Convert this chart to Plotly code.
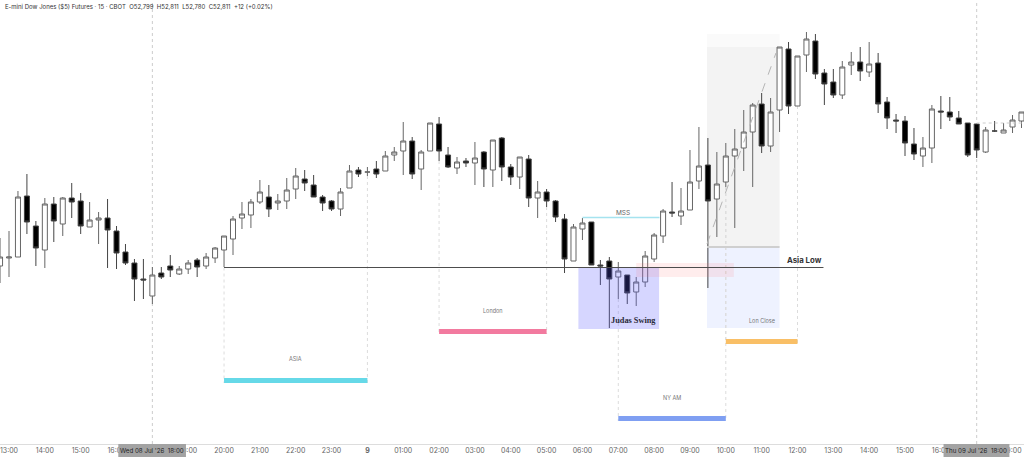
import plotly.graph_objects as go

# ---- data -----------------------------------------------------------------
first_bar = -1
opens = [52668,52676,52677,52738,52708,52684,52730,52710,52736,52733,52707,52714,52716,52703,52682,52671,52655,52638,52661,52668,52660,
         52665,52674,52668,52676,52684,52695,52716,52719,52732,52737,52731,52733,52745,52755,52749,52737,52733,52725,52746,52764,52762,
         52765,52763,52779,52783,52793,52765,52783,52810,52779,52766,52773,52771,52782,52764,52796,52767,52757,52775,52736,52742,52733,
         52715,52673,52705,52712,52669,52673,52657,52659,52642,52652,52675,52698,52722,52718,52724,52753,52769,52735,52752,52778,52786,
         52802,52830,52788,52824,52885,52828,52879,52893,52861,52852,52839,52869,52872,52862,52871,52832,52814,52813,52790,52778,52786,
         52823,52822,52816,52811,52810,52782,52803,52801,52807,52813,52799]
highs = [52696,52703,52743,52760,52713,52736,52737,52737,52751,52741,52732,52722,52735,52708,52690,52675,52675,52667,52667,52679,52668,
         52674,52676,52681,52687,52698,52718,52732,52735,52754,52749,52740,52756,52766,52764,52759,52739,52734,52746,52769,52767,52767,
         52773,52783,52787,52812,52797,52784,52811,52817,52787,52777,52776,52792,52783,52794,52797,52770,52777,52779,52753,52745,52734,
         52720,52710,52716,52712,52674,52677,52672,52659,52657,52683,52701,52725,52752,52746,52784,52807,52796,52782,52791,52805,52824,
         52831,52841,52836,52887,52892,52878,52902,52900,52865,52865,52873,52882,52887,52892,52881,52837,52820,52818,52806,52797,52829,
         52838,52837,52823,52811,52810,52807,52813,52811,52819,52822,52811]
lows = [52651,52657,52677,52700,52668,52666,52692,52698,52716,52700,52707,52690,52666,52665,52669,52633,52635,52630,52655,52657,52659,
        52660,52657,52665,52671,52667,52679,52705,52706,52730,52717,52724,52725,52735,52743,52737,52723,52723,52718,52746,52757,52758,
        52756,52763,52773,52759,52755,52744,52783,52773,52766,52760,52767,52749,52747,52747,52753,52749,52745,52727,52716,52727,52712,
        52661,52673,52694,52669,52649,52606,52635,52630,52628,52647,52672,52691,52717,52709,52724,52745,52646,52697,52747,52706,52763,
        52747,52781,52782,52802,52820,52828,52862,52855,52829,52836,52835,52859,52853,52857,52821,52805,52801,52778,52774,52767,52771,
        52805,52813,52810,52777,52776,52781,52802,52801,52801,52806,52780]
closes = [52677,52677,52737,52712,52686,52730,52713,52736,52732,52708,52714,52716,52704,52681,52671,52655,52654,52659,52657,52664,52665,
          52671,52667,52677,52686,52698,52715,52720,52732,52742,52725,52733,52744,52758,52751,52737,52731,52725,52742,52763,52760,52762,
          52760,52778,52782,52793,52760,52782,52811,52783,52767,52772,52771,52776,52765,52794,52767,52757,52777,52736,52742,52733,52717,
          52675,52707,52711,52669,52668,52655,52663,52641,52652,52678,52699,52723,52721,52723,52752,52768,52733,52750,52778,52785,52802,
          52829,52788,52822,52887,52828,52878,52895,52860,52850,52839,52867,52872,52863,52870,52830,52816,52813,52791,52780,52786,52825,
          52822,52817,52810,52779,52784,52804,52803,52804,52814,52822,52811]
bars = list(range(first_bar, first_bar + len(opens)))

tick_bars = [4,8,12,20,24,28,32,36,40,44,48,52,56,60,64,68,72,76,80,84,88,92,96,100,104,112]
tick_labels = ["14:00","15:00","16:00","19:00","20:00","21:00","22:00","23:00","<b>9</b>",
               "01:00","02:00","03:00","04:00","05:00","06:00","07:00","08:00","09:00","10:00","11:00",
               "12:00","13:00","14:00","15:00","16:00","19:00"]
first_tick_bar, first_tick_label = 0, "13:00"

header = ("E-mini Dow Jones ($5) Futures · 15 · CBOT\u00a0\u00a0O52,799\u00a0\u00a0H52,811"
          "\u00a0\u00a0L52,780\u00a0\u00a0C52,811\u00a0\u00a0+12 (+0.02%)")

# session: name, start bar, end bar, band top price, band bottom price, colour, label price,
# price where the left and right guide begin
sessions = [
    ("ASIA", 24, 40, 52556, 52551, "#66d9e8", 52575, 52666.5, 52758),
    ("London", 48, 60, 52605, 52600, "#f27a9f", 52623.5, 52773, 52727),
    ("NY AM", 68, 80, 52518, 52513, "#7f9ff2", 52536, 52635, 52747),
    ("Lon Close", 80, 88, 52595, 52590, "#f9bf66", 52613, 52747, 52828),
]
asia_low = 52666.5
mss_price = 52716.5
last_price = 52811
price_lo, price_hi = 52490, 52934
bar_lo, bar_hi = -1.0045, 113.28

# ---- figure ---------------------------------------------------------------
fig = go.Figure(go.Candlestick(
    x=bars, open=opens, high=highs, low=lows, close=closes, whiskerwidth=0,
    increasing=dict(line=dict(color="#666666", width=1), fillcolor="#ffffff"),
    decreasing=dict(line=dict(color="#444444", width=1), fillcolor="#000000"),
    hoverinfo="skip", showlegend=False))


def rect(x0, x1, y0, y1, color, layer="above"):
    fig.add_shape(type="rect", x0=x0, x1=x1, y0=y0, y1=y1, fillcolor=color,
                  line=dict(width=0), layer=layer)


def line(x0, x1, y0, y1, color, width=1, dash="solid", layer="above"):
    fig.add_shape(type="line", x0=x0, x1=x1, y0=y0, y1=y1,
                  line=dict(color=color, width=width, dash=dash), layer=layer)


def text(x, y, s, size, color="#666666", family="Inter"):
    fig.add_annotation(x=x, y=y, text=s, showarrow=False, xanchor="center", yanchor="middle",
                       font=dict(size=size, color=color, family=family))


# long-short box
rect(77.9, 86, 52687, 52887, "rgba(120,120,120,0.09)", "below")
rect(77.9, 86, 52887, 52900, "rgba(120,120,120,0.04)", "below")
rect(77.9, 86, 52606, 52687, "rgba(100,140,255,0.11)", "below")
line(77.9, 86, 52687, 52687, "#cfcfcf", 2)
line(77.9, 85.6, 52690, 52881, "#b5b5b5", 1, "dash")

# judas / imbalance
rect(63.55, 72.55, 52605, 52666.5, "rgba(90,90,255,0.25)")
rect(70, 80.9, 52657, 52671, "rgba(255,110,110,0.12)")

# session guides and bands
for name, x0, x1, top, bottom, color, label_y, start0, start1 in sessions:
    line(x0, x0, start0, bottom, "#dcdcdc", 1, "dot", "below")
    line(x1, x1, start1, bottom, "#dcdcdc", 1, "dot", "below")
    rect(x0, x1, bottom, top, color)
    text((x0 + x1) / 2, label_y, name, 5.5, "#777777")

line(24, 90.9, asia_low, asia_low, "#4d4d4d", 1)
text(88.8, 52674, "<b>Asia Low</b>", 7.8, "#333333")
line(64, 72.6, mss_price, mss_price, "#a5e3ef", 1.5)
text(68.5, 52721, "MSS", 6.5, "#666666")
text(69.75, 52614, "<b>Judas Swing</b>", 8.3, "#2a2a3a", "Liberation Serif")
line(108, 114, last_price, last_price, "#cccccc", 1, "dot")

# session-break verticals
for b in (16, 108):
    fig.add_shape(type="line", x0=b, x1=b, y0=0, y1=1, yref="paper",
                  line=dict(color="#cccccc", width=1, dash="3px,3px"), layer="below")

# header
fig.add_annotation(x=0, xref="paper", xanchor="left", xshift=3, y=6.5 / 444 * -1 + 1, yref="paper",
                   yanchor="middle", text=header, showarrow=False,
                   font=dict(size=6, color="#333333", family="Inter"))

# first tick, kept as an annotation so it stays on the page at the left edge
fig.add_annotation(x=first_tick_bar, y=-6.5 / 444, yref="paper", text=first_tick_label, showarrow=False,
                   xanchor="center", yanchor="middle", font=dict(size=7, color="#666666", family="Inter"))

# crosshair date tags on the time axis
for x0, x1, label in [(12.2, 19.75, "Wed 08 Jul '26\u00a0\u00a018:00"), (104.3, 111.65, "Thu 09 Jul '26\u00a0\u00a018:00")]:
    fig.add_shape(type="rect", x0=x0, x1=x1, yref="paper", y0=-13 / 444, y1=0, fillcolor="#a3a3a3",
                  line=dict(width=0), layer="above")
    fig.add_annotation(x=(x0 + x1) / 2, y=-6.5 / 444, yref="paper", text=label, showarrow=False,
                       xanchor="center", yanchor="middle",
                       font=dict(size=6.2, color="#222222", family="Inter"))

fig.update_layout(
    width=1024, height=457, autosize=False,
    margin=dict(l=0, r=0, t=0, b=13),
    paper_bgcolor="#ffffff", plot_bgcolor="#ffffff",
    showlegend=False, boxgap=0.2,
    xaxis=dict(range=[bar_lo, bar_hi], rangeslider=dict(visible=False), showgrid=False, zeroline=False,
               tickmode="array", tickvals=tick_bars, ticktext=tick_labels, ticks="", ticklen=0,
               tickfont=dict(size=7, color="#666666", family="Inter"), tickangle=0,
               showline=True, linecolor="#dddddd", linewidth=1),
    yaxis=dict(range=[price_lo, price_hi], visible=False, showgrid=False, zeroline=False),
)

fig.write_html("out.html", config={"displayModeBar": False},
               post_script="document.body.style.margin='0';document.body.style.overflow='hidden';")
